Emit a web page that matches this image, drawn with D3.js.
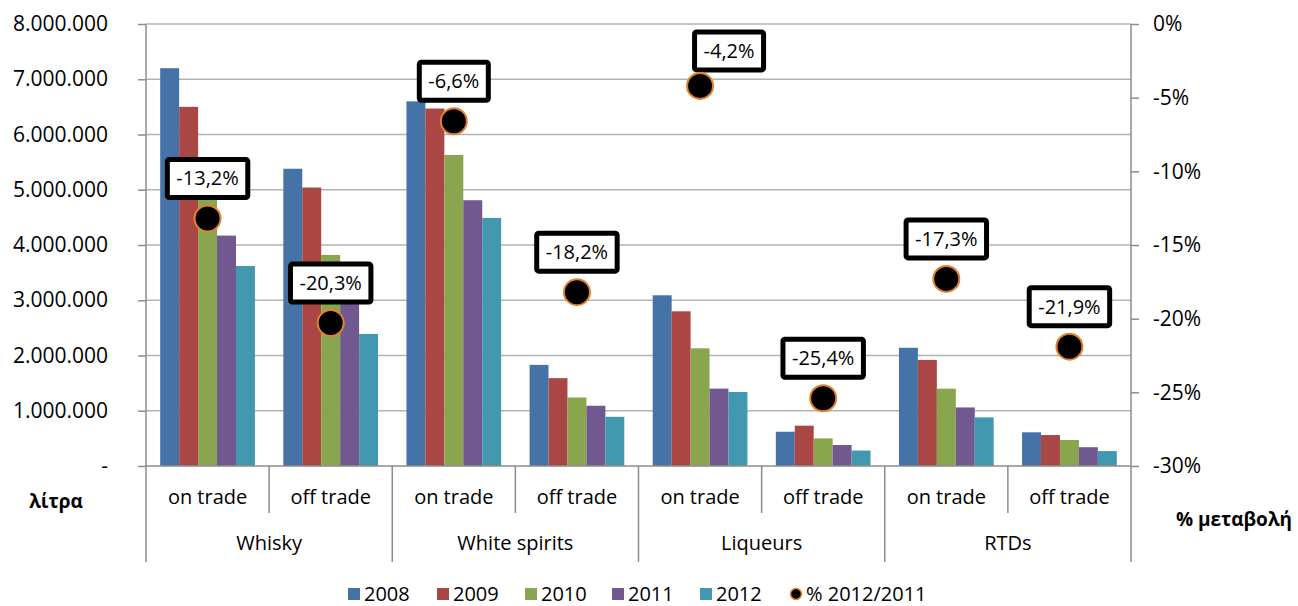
<!DOCTYPE html>
<html>
<head>
<meta charset="utf-8">
<script src="https://cdn.jsdelivr.net/npm/d3@7"></script>
<style>
	body { margin: 0; background: #fff; }
	text { font-family: "Open Sans", "Liberation Sans", sans-serif; fill: #000; }
</style>
</head>
<body>
<div id="chart-area"></div>
<script>
// data
var groups = ["Whisky", "White spirits", "Liqueurs", "RTDs"];
var channels = ["on trade", "off trade"];
var years = ["2008", "2009", "2010", "2011", "2012"];
var v2008 = [7200000, 5380000, 6600000, 1830000, 3090000, 620000, 2140000, 610000];
var v2009 = [6500000, 5040000, 6470000, 1590000, 2800000, 730000, 1920000, 560000];
var v2010 = [5000000, 3820000, 5630000, 1240000, 2130000, 500000, 1400000, 470000];
var v2011 = [4170000, 3000000, 4810000, 1090000, 1400000, 380000, 1060000, 340000];
var v2012 = [3620000, 2390000, 4490000, 890000, 1340000, 280000, 880000, 270000];
var pctChange = [-13.2, -20.3, -6.6, -18.2, -4.2, -25.4, -17.3, -21.9];
var leftTicks = [0, 1000000, 2000000, 3000000, 4000000, 5000000, 6000000, 7000000, 8000000];
var rightTicks = [0, -5, -10, -15, -20, -25, -30];

var colors = ["#4572A7", "#AA4643", "#89A54E", "#71588F", "#4198AF"];
var dotStroke = "#E3822D";

var margin = {left: 146, right: 167, top: 24, bottom: 140};
var width = 1298 - margin.left - margin.right,
	height = 606 - margin.top - margin.bottom;

var svg = d3.select("#chart-area").append("svg")
	.attr("width", 1298)
	.attr("height", 606);

var g = svg.append("g")
	.attr("transform", "translate(" + margin.left + "," + margin.top + ")");

// build the categories
var cats = [];
groups.forEach(function(gr){
	channels.forEach(function(ch){ cats.push(gr + "|" + ch); });
});
var series = [v2008, v2009, v2010, v2011, v2012];

// scales
var x = d3.scaleBand().domain(cats).range([0, width]);
var xInner = d3.scaleBand().domain(years)
	.range([0, x.bandwidth()])
	.paddingInner(0)
	.paddingOuter(0.75);
var y = d3.scaleLinear().domain([0, 8000000]).range([height, 0]);
var y2 = d3.scaleLinear().domain([-30, 0]).range([height, 0]);

var loc = d3.formatLocale({decimal: ",", thousands: ".", grouping: [3], currency: ["", "€"], minus: "-"});
var numFmt = loc.format(",.0f");
var pctFmt = loc.format(".1f");

// gridlines
g.append("g").selectAll("line")
	.data(leftTicks.slice(1))
	.enter().append("line")
		.attr("x1", 0).attr("x2", width)
		.attr("y1", function(d){ return y(d); })
		.attr("y2", function(d){ return y(d); })
		.attr("stroke", "#b3b3b3")
		.attr("stroke-width", 1.5);

// bars
series.forEach(function(vals, i){
	g.append("g").selectAll("rect")
		.data(vals)
		.enter().append("rect")
			.attr("x", function(d, j){ return x(cats[j]) + xInner(years[i]); })
			.attr("y", function(d){ return y(d); })
			.attr("width", xInner.bandwidth())
			.attr("height", function(d){ return height - y(d); })
			.attr("fill", colors[i]);
});

// left axis
var yAxisCall = d3.axisLeft(y)
	.tickValues(leftTicks)
	.tickSize(8)
	.tickPadding(30)
	.tickFormat(function(d){ return d === 0 ? "-" : numFmt(d); });
var yAx = g.append("g").call(yAxisCall);
yAx.selectAll("text").attr("font-size", "21px");
yAx.selectAll("line, path").attr("stroke", "#8c8c8c").attr("stroke-width", 1.5);
yAx.select("path").attr("d", "M0,0V" + height);

// right axis
var y2AxisCall = d3.axisRight(y2)
	.tickValues(rightTicks)
	.tickSize(8)
	.tickPadding(14)
	.tickFormat(function(d){ return loc.format(".0f")(d) + "%"; });
var y2Ax = g.append("g")
	.attr("transform", "translate(" + width + ",0)")
	.call(y2AxisCall);
y2Ax.selectAll("text").attr("font-size", "21px").attr("text-anchor", "start");
y2Ax.selectAll("line, path").attr("stroke", "#8c8c8c").attr("stroke-width", 1.5);
y2Ax.select("path").attr("d", "M0,0V" + height);

// x axis baseline and category separators
var xa = g.append("g").attr("transform", "translate(0," + height + ")");
xa.append("line")
	.attr("x1", 0).attr("x2", width)
	.attr("stroke", "#8c8c8c").attr("stroke-width", 1.5);
var seps = d3.range(cats.length + 1);
xa.selectAll(".sep")
	.data(seps)
	.enter().append("line")
		.attr("class", "sep")
		.attr("x1", function(d){ return d * x.step(); })
		.attr("x2", function(d){ return d * x.step(); })
		.attr("y1", 0)
		.attr("y2", function(d){ return d % 2 === 0 ? 96 : 47; })
		.attr("stroke", "#8c8c8c")
		.attr("stroke-width", 1.5);
xa.selectAll(".chan")
	.data(cats)
	.enter().append("text")
		.attr("x", function(d){ return x(d) + x.bandwidth() / 2; })
		.attr("y", 38)
		.attr("text-anchor", "middle")
		.attr("font-size", "20px")
		.text(function(d){ return d.split("|")[1]; });
xa.selectAll(".grp")
	.data(groups)
	.enter().append("text")
		.attr("x", function(d, i){ return (i * 2 + 1) * x.step(); })
		.attr("y", 84)
		.attr("text-anchor", "middle")
		.attr("font-size", "20px")
		.text(function(d){ return d; });

// axis titles
svg.append("text")
	.attr("x", 56).attr("y", 508)
	.attr("text-anchor", "middle")
	.attr("font-size", "19px").attr("font-weight", "bold")
	.text("λίτρα");
svg.append("text")
	.attr("x", 1234).attr("y", 526)
	.attr("text-anchor", "middle")
	.attr("font-size", "19px").attr("font-weight", "bold")
	.text("% μεταβολή");

// % change dots with labels
var labelNudge = {4: [29, 5]};
pctChange.forEach(function(p, i){
	var cx = x(cats[i]) + x.bandwidth() / 2;
	var cy = y2(p);
	var nd = labelNudge[i] || [0, 0];
	var lab = g.append("g");
	var t = lab.append("text")
		.attr("x", cx + nd[0])
		.attr("y", cy - 33 + nd[1])
		.attr("text-anchor", "middle")
		.attr("font-size", "20px")
		.text(pctFmt(p) + "%");
	var bb = t.node().getBBox();
	lab.insert("rect", "text")
		.attr("x", bb.x - 9)
		.attr("y", cy - 59 + nd[1])
		.attr("width", bb.width + 18)
		.attr("height", 38)
		.attr("fill", "#fff")
		.attr("stroke", "#000")
		.attr("stroke-width", 5)
		.attr("rx", 2);
	g.append("circle")
		.attr("cx", cx)
		.attr("cy", cy)
		.attr("r", 13)
		.attr("fill", "#000")
		.attr("stroke", dotStroke)
		.attr("stroke-width", 2);
});

// legend
var legendItems = years.concat(["% 2012/2011"]);
var legendX = [348, 437, 525, 612, 700, 790];
var legend = svg.append("g");
legendItems.forEach(function(item, i){
	var row = legend.append("g")
		.attr("transform", "translate(" + legendX[i] + ",594)");
	if (i < years.length) {
		row.append("rect")
			.attr("x", 0).attr("y", -6)
			.attr("width", 12).attr("height", 12)
			.attr("fill", colors[i]);
	} else {
		row.append("circle")
			.attr("cx", 6).attr("cy", 0).attr("r", 5.5)
			.attr("fill", "#000")
			.attr("stroke", dotStroke)
			.attr("stroke-width", 1.5);
	}
	row.append("text")
		.attr("x", 16)
		.attr("y", 7)
		.attr("font-size", "20px")
		.text(item);
});
</script>
</body>
</html>
